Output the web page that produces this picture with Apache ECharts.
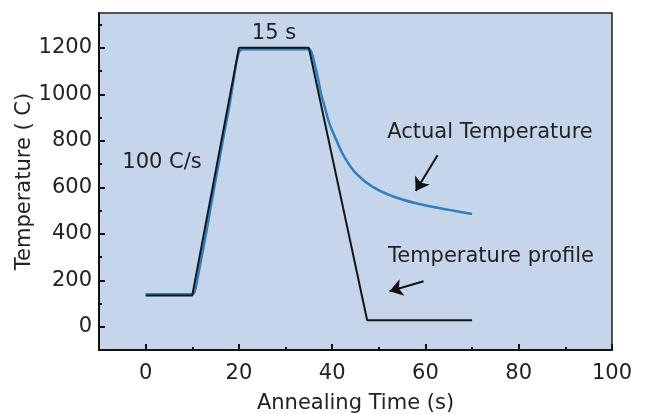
<!DOCTYPE html>
<html>
<head>
<meta charset="utf-8">
<script src="https://cdn.jsdelivr.net/npm/echarts@6/dist/echarts.min.js"></script>
<style>
  html, body { margin: 0; padding: 0; background: #fff; }
  #chart { width: 654px; height: 414px; }
</style>
</head>
<body>
<div id="chart"></div>
<script>
// set-point profile (black)
var profileTime = [0, 10, 20, 35, 47.5, 70];
var profileTemp = [135, 135, 1200, 1200, 28, 28];

// measured temperature (blue)
var actualTime = [0, 10, 10.5, 11, 12, 13, 14, 15, 16, 17, 18, 19, 19.6, 20.2, 21, 35, 35.5, 36.2, 36.9, 37.6, 38.4, 39.4, 40.9, 42.6, 45.1, 48.7, 53.7, 59.4, 65.1, 70];
var actualTemp = [140, 140, 150, 195, 300, 405, 520, 630, 740, 850, 955, 1080, 1150, 1188, 1194, 1194, 1185, 1133, 1075, 1004, 946, 875, 803, 731, 660, 602, 556, 525, 503, 485];

var xMajor = [0, 20, 40, 60, 80, 100];
var xMinor = [10, 30, 50, 70, 90];
var yMajor = [0, 200, 400, 600, 800, 1000, 1200];
var yMinor = [100, 300, 500, 700, 900, 1100, 1300];

// arrows for the two labels, [start, end] in data units
var actualArrow = [[62.6, 738], [57.9, 584]];
var profileArrow = [[59.6, 196], [52.3, 153]];

var font = 'DejaVu Sans';
var chart = echarts.init(document.getElementById('chart'));

function zip(xs, ys) {
    var out = [];
    for (var i = 0; i < xs.length; i++) out.push([xs[i], ys[i]]);
    return out;
}

function plain(v) {
    return String(v);
}

var option = {
    animation: false,
    grid: {
        left: 99, right: 42, top: 13, bottom: 64,
        containLabel: false,
        outerBoundsMode: 'none',
        show: true,
        backgroundColor: '#c5d6eb',
        borderColor: '#222',
        borderWidth: 1.5
    },
    xAxis: [{
        type: 'value', min: -10, max: 100,
        name: 'Annealing Time (s)', nameLocation: 'middle', nameGap: 43,
        nameTextStyle: { fontFamily: font, fontSize: 21, color: '#222' },
        axisLine: { onZero: false, lineStyle: { color: '#111', width: 2 } },
        axisTick: { inside: true, length: 6, customValues: xMajor, lineStyle: { color: '#111', width: 2 } },
        axisLabel: { customValues: xMajor, formatter: plain, margin: 13, fontFamily: font, fontSize: 21, color: '#222' },
        splitLine: { show: false }
    }, {
        type: 'value', min: -10, max: 100, position: 'bottom',
        axisLine: { show: false, onZero: false },
        axisTick: { inside: true, length: 3, customValues: xMinor, lineStyle: { color: '#111', width: 2 } },
        axisLabel: { show: false },
        splitLine: { show: false }
    }],
    yAxis: [{
        type: 'value', min: -100, max: 1350,
        name: 'Temperature ( C)', nameLocation: 'middle', nameGap: 64, nameRotate: 90,
        nameMoveOverlap: false,
        nameTextStyle: { fontFamily: font, fontSize: 21, color: '#222' },
        axisLine: { show: true, onZero: false, lineStyle: { color: '#111', width: 2 } },
        axisTick: { show: true, inside: true, length: 6, customValues: yMajor, lineStyle: { color: '#111', width: 2 } },
        axisLabel: { customValues: yMajor, formatter: plain, margin: 7, fontFamily: font, fontSize: 21, color: '#222' },
        splitLine: { show: false }
    }, {
        type: 'value', min: -100, max: 1350, position: 'left',
        axisLine: { show: false, onZero: false },
        axisTick: { show: true, inside: true, length: 3, customValues: yMinor, lineStyle: { color: '#111', width: 2 } },
        axisLabel: { show: false },
        splitLine: { show: false }
    }],
    series: [
        {
            name: 'Actual Temperature',
            type: 'line',
            data: zip(actualTime, actualTemp),
            showSymbol: false,
            smooth: 0.4,
            lineStyle: { color: '#2f7fc1', width: 2.5 },
            z: 2,
            markLine: {
                silent: true,
                symbol: ['none', 'arrow'],
                symbolSize: 13,
                label: { show: false },
                lineStyle: { color: '#111', width: 2, type: 'solid', curveness: 0.25 },
                data: [
                    [{ coord: actualArrow[0] }, { coord: actualArrow[1] }],
                    [{ coord: profileArrow[0] }, { coord: profileArrow[1] }]
                ]
            }
        },
        {
            name: 'Temperature profile',
            type: 'line',
            data: zip(profileTime, profileTemp),
            showSymbol: false,
            lineStyle: { color: '#151515', width: 2 },
            z: 3
        }
    ],
    graphic: [
        { type: 'text', x: 274, y: 34, style: { text: '15 s', font: '21px "DejaVu Sans"', fill: '#222', align: 'center', verticalAlign: 'middle' } },
        { type: 'text', x: 162, y: 163, style: { text: '100 C/s', font: '21px "DejaVu Sans"', fill: '#222', align: 'center', verticalAlign: 'middle' } },
        { type: 'text', x: 490, y: 133, style: { text: 'Actual Temperature', font: '21px "DejaVu Sans"', fill: '#222', align: 'center', verticalAlign: 'middle' } },
        { type: 'text', x: 491, y: 257, style: { text: 'Temperature profile', font: '21px "DejaVu Sans"', fill: '#222', align: 'center', verticalAlign: 'middle' } }
    ]
};

chart.setOption(option);
</script>
</body>
</html>
